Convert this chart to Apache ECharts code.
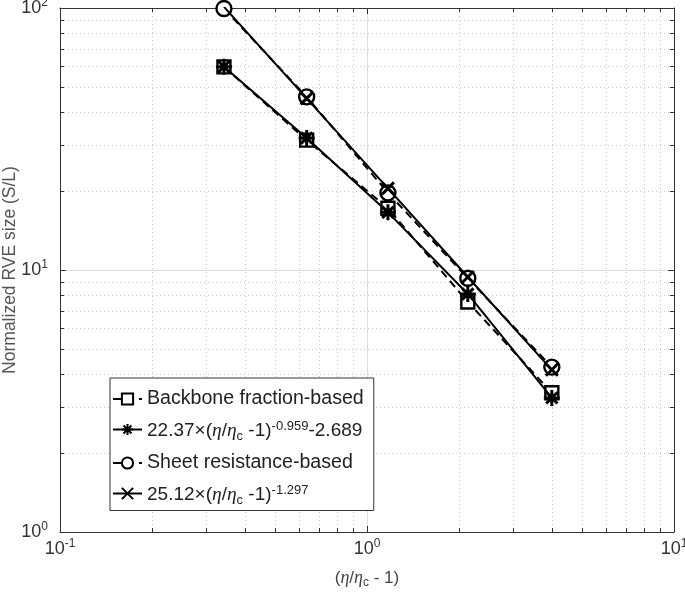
<!DOCTYPE html>
<html><head><meta charset="utf-8">
<script src="https://cdn.jsdelivr.net/npm/echarts@6/dist/echarts.min.js"></script>
<style>html,body{margin:0;padding:0;background:#fff}#c{width:685px;height:595px}</style>
</head><body><div id="c"></div>
<script>
// ---- data ----
const xValues = [0.342, 0.636, 1.17, 2.13, 4.0];
const backbone = [59.6, 31.3, 17.2, 7.55, 3.4];
const backboneFit = [59.7, 31.9, 16.6, 8.1, 3.25];
const sheet = [99.5, 45.8, 19.7, 9.3, 4.26];
const sheetFit = [101, 45.2, 20.5, 9.4, 4.16];
const xMinor = [0.2,0.3,0.4,0.5,0.6,0.7,0.8,0.9,2,3,4,5,6,7,8,9];
const yMinor = [2,3,4,5,6,7,8,9,20,30,40,50,60,70,80,90];
const seriesNames = ['Backbone fraction-based','fit1','Sheet resistance-based','fit2'];

const pair = (ys) => xValues.map((x, i) => [x, ys[i]]);
const expLabel = (v) => '{b|10}{s|' + Math.round(Math.log10(v)) + '}';

const AX = '#333';
const chart = echarts.init(document.getElementById('c'));

function minorX(params, api) {
  const cs = params.coordSys;
  const p = api.coord([api.value(0), api.value(1)]);
  const x = Math.round(p[0]) + 0.5;
  const b = cs.y + cs.height;
  return {type: 'group', children: [
    {type: 'line', shape: {x1: x, y1: cs.y, x2: x, y2: b}, style: {stroke: '#c8c8c8', lineWidth: 1, lineDash: [1, 3]}},
    {type: 'line', shape: {x1: x, y1: b, x2: x, y2: b - 4}, style: {stroke: AX, lineWidth: 1}},
    {type: 'line', shape: {x1: x, y1: cs.y, x2: x, y2: cs.y + 4}, style: {stroke: AX, lineWidth: 1}}
  ]};
}
function minorY(params, api) {
  const cs = params.coordSys;
  const p = api.coord([api.value(0), api.value(1)]);
  const y = Math.round(p[1]) + 0.5;
  const r = cs.x + cs.width;
  return {type: 'group', children: [
    {type: 'line', shape: {x1: cs.x, y1: y, x2: r, y2: y}, style: {stroke: '#c8c8c8', lineWidth: 1, lineDash: [1, 3]}},
    {type: 'line', shape: {x1: cs.x, y1: y, x2: cs.x + 4, y2: y}, style: {stroke: AX, lineWidth: 1}},
    {type: 'line', shape: {x1: r, y1: y, x2: r - 4, y2: y}, style: {stroke: AX, lineWidth: 1}}
  ]};
}

const labelRich = {
  b: {fontSize: 18, color: '#333', fontFamily: 'Liberation Sans'},
  s: {fontSize: 12, color: '#333', fontFamily: 'Liberation Sans', verticalAlign: 'top', padding: [0, 0, 10, 0]}
};

const legendRich = {
  t: {fontSize: 19.6, color: '#222', fontFamily: 'Liberation Sans'},
  n: {fontSize: 19, color: '#222', fontFamily: 'Liberation Sans'},
  i: {fontSize: 19.5, color: '#222', fontFamily: 'Liberation Serif', fontStyle: 'italic'},
  sub: {fontSize: 13, color: '#222', fontFamily: 'Liberation Sans', verticalAlign: 'bottom', padding: [10, 0, 0, 0]},
  sup: {fontSize: 13, color: '#222', fontFamily: 'Liberation Sans', verticalAlign: 'top', padding: [0, 0, 10, 0]}
};
const legendText = {
  'Backbone fraction-based': '{t|Backbone fraction-based}',
  'fit1': '{n|22.37×(}{i|η}{n|/}{i|η}{sub|c}{n| -1)}{sup|-0.959}{n|-2.689}',
  'Sheet resistance-based': '{t|Sheet resistance-based}',
  'fit2': '{n|25.12×(}{i|η}{n|/}{i|η}{sub|c}{n| -1)}{sup|-1.297}'
};

const starPath = 'path://M0,-10L0,10M-10,0L10,0M-7.07,-7.07L7.07,7.07M-7.07,7.07L7.07,-7.07';
const xPath = 'path://M-10,-10L10,10M-10,10L10,-10';

const baseAxis = {
  type: 'log', logBase: 10,
  axisLine: {show: true, lineStyle: {color: AX, width: 1}},
  axisTick: {show: true, inside: true, length: 6, lineStyle: {color: AX}},
  splitLine: {show: false}
};

chart.setOption({
  animation: false,
  backgroundColor: '#fff',
  grid: {left: 60, top: 8, right: 11, bottom: 63, containLabel: false, outerBoundsMode: 'none'},
  xAxis: [
    Object.assign({}, baseAxis, {
      position: 'bottom', min: 0.1, max: 10,
      axisLabel: {formatter: expLabel, rich: labelRich, margin: 6},
      splitLine: {show: true, lineStyle: {color: '#dcdcdc', width: 1}},
      name: '{p|(}{i|η}{p|/}{i|η}{sub|c}{p| - 1)}', nameLocation: 'middle', nameGap: 36,
      nameMoveOverlap: false,
      nameTextStyle: {rich: {
        p: {fontSize: 17, color: '#444', fontFamily: 'Liberation Sans'},
        i: {fontSize: 18, color: '#444', fontFamily: 'Liberation Serif', fontStyle: 'italic'},
        sub: {fontSize: 12, color: '#444', fontFamily: 'Liberation Sans', verticalAlign: 'bottom', padding: [9, 0, 0, 0]}
      }}
    }),
    Object.assign({}, baseAxis, {position: 'top', min: 0.1, max: 10, axisLabel: {show: false}})
  ],
  yAxis: [
    Object.assign({}, baseAxis, {
      position: 'left', min: 1, max: 100,
      axisLabel: {formatter: expLabel, rich: labelRich, margin: 12, align: 'right'},
      splitLine: {show: true, lineStyle: {color: '#dcdcdc', width: 1}},
      name: 'Normalized RVE size (S/L)', nameLocation: 'middle', nameGap: 41,
      nameMoveOverlap: false,
      nameTextStyle: {fontSize: 17.5, color: '#555', fontFamily: 'Liberation Sans'}
    }),
    Object.assign({}, baseAxis, {position: 'right', min: 1, max: 100, axisLabel: {show: false}})
  ],
  legend: {
    data: seriesNames,
    orient: 'vertical', left: 110, top: 378,
    backgroundColor: '#fff', borderColor: '#333', borderWidth: 1,
    padding: [11, 10, 4, 2],
    itemWidth: 29, itemHeight: 14, itemGap: 10.5,
    formatter: (name) => legendText[name],
    textStyle: {rich: legendRich, fontSize: 19.5, color: '#222', height: 20}
  },
  series: [
    {type: 'custom', renderItem: minorX, data: xMinor.map(v => [v, 1]), silent: true, z: 0, clip: false},
    {type: 'custom', renderItem: minorY, data: yMinor.map(v => [1, v]), silent: true, z: 0, clip: false},
    {
      name: seriesNames[0], type: 'line', data: pair(backbone),
      symbol: 'rect', symbolSize: 13,
      lineStyle: {color: '#000', width: 2, type: [8, 5]},
      itemStyle: {color: '#fff', borderColor: '#000', borderWidth: 2.4}, z: 3
    },
    {
      name: seriesNames[1], type: 'line', data: pair(backboneFit),
      symbol: starPath, symbolSize: 16,
      lineStyle: {color: '#000', width: 2, type: 'solid'},
      itemStyle: {color: '#000', borderColor: '#000', borderWidth: 3}, z: 4
    },
    {
      name: seriesNames[2], type: 'line', data: pair(sheet),
      symbol: 'circle', symbolSize: 15,
      lineStyle: {color: '#000', width: 2, type: [8, 5]},
      itemStyle: {color: '#fff', borderColor: '#000', borderWidth: 2.4}, z: 3
    },
    {
      name: seriesNames[3], type: 'line', data: pair(sheetFit),
      symbol: xPath, symbolSize: 12,
      lineStyle: {color: '#000', width: 2, type: 'solid'},
      itemStyle: {color: '#000', borderColor: '#000', borderWidth: 3}, z: 4
    }
  ]
});
</script></body></html>
